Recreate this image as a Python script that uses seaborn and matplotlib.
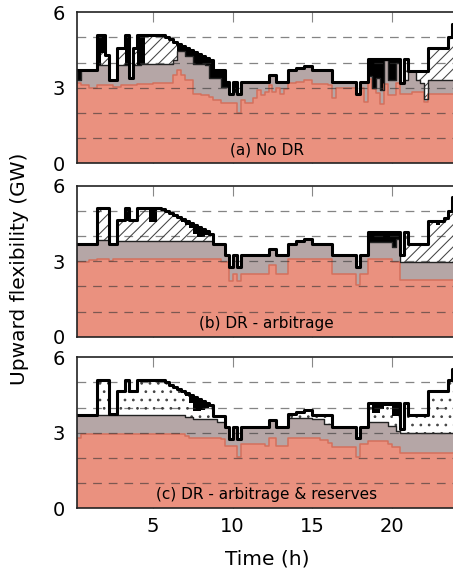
import matplotlib
matplotlib.use("Agg")
import matplotlib.pyplot as plt
import numpy as np
import seaborn as sns

# quarter-hour values (GW), interval k covers [k/4, k/4 + 0.25) h
# panel (a) No DR
total_a = [3.7, 3.7, 3.7, 3.7, 3.7, 3.7, 5.1, 5.1,
           4.3, 3.3, 3.3, 4.6, 4.6, 5.1, 3.4, 4.6,
           5.1, 5.1, 5.1, 5.1, 5.1, 5.1, 5.08, 5.0,
           4.92, 4.84, 4.76, 4.68, 4.6, 4.52, 4.44, 4.36,
           4.28, 4.2, 4.1, 3.7, 3.7, 3.7, 3.25, 2.75,
           3.25, 2.75, 3.25, 3.25, 3.25, 3.25, 3.25, 3.25,
           3.25, 3.5, 3.5, 3.25, 3.25, 3.25, 3.7, 3.7,
           3.8, 3.8, 3.88, 3.88, 3.7, 3.7, 3.7, 3.7,
           3.7, 3.25, 3.25, 3.25, 3.25, 3.25, 3.25, 2.75,
           3.25, 3.25, 4.15, 4.15, 4.15, 4.15, 4.15, 4.15,
           4.15, 4.15, 3.2, 4.15, 3.65, 3.65, 3.65, 3.65,
           3.65, 4.6, 4.6, 4.6, 4.6, 4.6, 5.0, 5.55]
hatch_a = [3.7, 3.3, 3.7, 3.7, 3.7, 3.7, 3.9, 4.4,
           4.3, 3.3, 3.3, 4.6, 4.6, 3.9, 3.4, 4.6,
           3.92, 3.95, 5.1, 5.1, 5.1, 5.1, 5.08, 5.0,
           4.92, 4.84, 4.45, 4.45, 4.25, 4.25, 3.95, 3.95,
           3.95, 3.9, 3.4, 3.4, 3.4, 3.05, 3.05, 2.75,
           2.85, 2.75, 3.25, 3.25, 3.25, 3.25, 3.25, 3.25,
           3.25, 3.5, 3.5, 3.25, 3.25, 3.25, 3.7, 3.7,
           3.8, 3.8, 3.88, 3.88, 3.7, 3.7, 3.7, 3.7,
           3.7, 3.25, 3.25, 3.25, 3.25, 3.25, 3.25, 2.75,
           3.25, 3.25, 3.45, 3.0, 3.4, 2.9, 4.1, 3.3,
           3.3, 4.0, 3.2, 4.15, 3.65, 3.65, 3.65, 3.65,
           3.65, 4.6, 4.6, 4.6, 4.6, 4.6, 5.0, 5.55]
grey_a = [3.7, 3.3, 3.7, 3.7, 3.7, 3.7, 3.9, 3.9,
          3.9, 3.3, 3.3, 3.9, 3.9, 3.9, 3.4, 3.92,
          3.92, 3.95, 3.95, 3.95, 3.95, 3.95, 3.95, 3.95,
          3.95, 4.1, 4.45, 4.45, 4.25, 4.25, 3.95, 3.95,
          3.95, 3.9, 3.4, 3.4, 3.4, 3.05, 3.05, 2.75,
          2.85, 2.75, 3.25, 3.25, 3.25, 3.25, 3.25, 3.25,
          3.25, 3.5, 3.5, 3.25, 3.25, 3.25, 3.7, 3.7,
          3.8, 3.8, 3.88, 3.88, 3.7, 3.7, 3.7, 3.7,
          3.7, 3.25, 3.25, 3.25, 3.25, 3.25, 3.25, 2.75,
          3.25, 3.25, 3.45, 3.0, 3.4, 2.9, 4.1, 3.3,
          3.3, 4.0, 3.2, 3.3, 3.65, 3.65, 3.3, 3.2,
          2.55, 3.3, 3.3, 3.3, 3.3, 3.3, 3.3, 3.3]
red_a = [3.18, 3.18, 3.1, 3.1, 3.0, 3.0, 3.1, 3.1,
         3.1, 3.1, 3.05, 3.05, 3.1, 3.1, 3.1, 3.1,
         3.15, 3.15, 3.15, 3.15, 3.2, 3.2, 3.2, 3.2,
         3.2, 3.5, 3.7, 3.5, 3.3, 3.3, 2.75, 2.75,
         2.7, 2.7, 2.65, 2.5, 2.5, 2.38, 2.38, 2.38,
         2.38, 2.0, 2.5, 2.38, 2.38, 2.58, 2.9, 2.7,
         2.85, 3.1, 2.85, 3.0, 2.75, 2.95, 3.2, 3.2,
         3.25, 3.25, 3.3, 3.3, 3.15, 3.15, 3.15, 3.15,
         3.1, 2.6, 3.0, 3.0, 3.0, 3.0, 3.0, 2.75,
         3.0, 2.45, 3.35, 2.95, 2.8, 2.35, 3.15, 2.7,
         2.7, 3.2, 2.77, 2.77, 2.77, 2.83, 2.83, 2.83,
         2.45, 2.77, 2.77, 2.77, 2.77, 2.77, 2.77, 2.77]

# panel (b) DR - arbitrage
total_b = [3.7, 3.7, 3.7, 3.7, 3.7, 3.7, 5.1, 5.1,
           5.1, 3.7, 3.7, 4.65, 4.65, 5.1, 4.65, 4.65,
           5.1, 5.1, 5.1, 5.1, 5.1, 5.1, 5.08, 5.0,
           4.92, 4.84, 4.76, 4.68, 4.6, 4.52, 4.44, 4.36,
           4.28, 4.2, 4.1, 3.7, 3.7, 3.7, 3.25, 2.75,
           3.25, 2.75, 3.25, 3.25, 3.25, 3.25, 3.25, 3.25,
           3.25, 3.5, 3.5, 3.25, 3.25, 3.25, 3.7, 3.7,
           3.8, 3.8, 3.88, 3.88, 3.7, 3.7, 3.7, 3.7,
           3.7, 3.25, 3.25, 3.25, 3.25, 3.25, 3.25, 2.75,
           3.25, 3.25, 4.15, 4.15, 4.15, 4.15, 4.15, 4.15,
           4.15, 4.15, 3.25, 4.15, 3.7, 3.7, 3.7, 3.7,
           3.7, 4.6, 4.6, 4.6, 4.6, 4.7, 5.0, 5.55]
hatch_b = [3.7, 3.7, 3.7, 3.7, 3.7, 3.7, 5.1, 5.1,
           5.1, 3.7, 3.7, 4.65, 4.65, 4.6, 4.65, 4.65,
           5.1, 5.1, 5.1, 4.55, 4.55, 5.1, 5.08, 5.0,
           4.85, 4.76, 4.66, 4.56, 4.45, 4.3, 4.1, 3.95,
           3.95, 4.05, 4.1, 3.7, 3.7, 3.7, 3.25, 2.75,
           3.25, 2.75, 3.25, 3.25, 3.25, 3.25, 3.25, 3.25,
           3.25, 3.5, 3.5, 3.25, 3.25, 3.25, 3.7, 3.7,
           3.8, 3.8, 3.88, 3.88, 3.7, 3.7, 3.7, 3.7,
           3.7, 3.25, 3.25, 3.25, 3.25, 3.25, 3.25, 2.75,
           3.25, 3.25, 3.75, 3.75, 3.75, 3.75, 3.75, 3.75,
           3.55, 3.9, 3.25, 4.15, 3.7, 3.7, 3.7, 3.7,
           3.7, 4.6, 4.6, 4.45, 4.6, 4.7, 5.0, 5.55]
grey_b = [3.7, 3.7, 3.7, 3.7, 3.7, 3.7, 3.85, 3.85,
          3.85, 3.7, 3.7, 3.82, 3.82, 3.82, 3.82, 3.82,
          3.82, 3.82, 3.82, 3.82, 3.82, 3.82, 3.82, 3.82,
          3.82, 3.82, 3.82, 3.82, 3.82, 3.82, 3.82, 3.82,
          3.82, 3.82, 3.8, 3.7, 3.7, 3.7, 3.25, 2.75,
          3.25, 2.75, 3.25, 3.25, 3.25, 3.25, 3.25, 3.25,
          3.25, 3.5, 3.5, 3.25, 3.25, 3.25, 3.7, 3.7,
          3.8, 3.8, 3.88, 3.88, 3.7, 3.7, 3.7, 3.7,
          3.7, 3.25, 3.25, 3.25, 3.25, 3.25, 3.25, 2.75,
          3.25, 3.25, 3.75, 3.75, 3.75, 3.75, 3.75, 3.75,
          3.55, 3.9, 2.97, 2.97, 2.97, 2.97, 2.97, 2.97,
          2.97, 2.97, 2.97, 2.97, 2.97, 2.97, 2.97, 2.97]
red_b = [2.97, 2.97, 2.97, 2.97, 3.03, 3.03, 3.1, 3.1,
         3.1, 3.0, 3.08, 3.08, 3.08, 3.08, 3.08, 3.08,
         3.08, 3.08, 3.08, 3.08, 3.08, 3.08, 3.08, 3.08,
         3.08, 3.08, 3.08, 3.08, 3.08, 3.08, 3.08, 3.08,
         3.08, 3.08, 3.08, 3.08, 3.08, 2.97, 2.97, 2.2,
         2.5, 2.2, 2.5, 2.5, 2.5, 2.5, 2.5, 2.5,
         2.5, 2.83, 2.83, 2.5, 2.5, 2.5, 3.07, 3.07,
         3.07, 3.07, 3.07, 3.07, 3.07, 3.07, 3.07, 3.07,
         3.07, 2.5, 2.5, 2.5, 2.5, 2.5, 2.5, 2.05,
         2.5, 2.5, 3.1, 3.1, 3.1, 3.1, 3.1, 3.1,
         2.97, 2.97, 2.24, 2.24, 2.24, 2.24, 2.24, 2.24,
         2.24, 2.24, 2.24, 2.24, 2.24, 2.24, 2.24, 2.24]

# panel (c) DR - arbitrage & reserves
total_c = [3.7, 3.7, 3.7, 3.7, 3.7, 3.7, 5.1, 5.1,
           5.1, 3.75, 3.75, 4.68, 4.68, 5.1, 4.68, 4.68,
           5.1, 5.1, 5.1, 5.1, 5.1, 5.1, 5.08, 5.0,
           4.92, 4.84, 4.76, 4.68, 4.6, 4.52, 4.44, 4.36,
           4.28, 4.2, 4.1, 3.65, 3.65, 3.65, 3.25, 2.75,
           3.25, 2.75, 3.25, 3.25, 3.25, 3.25, 3.25, 3.25,
           3.25, 3.5, 3.5, 3.25, 3.25, 3.25, 3.74, 3.74,
           3.81, 3.81, 3.9, 3.9, 3.72, 3.72, 3.72, 3.72,
           3.72, 3.25, 3.25, 3.25, 3.25, 3.25, 3.25, 2.78,
           3.25, 3.25, 4.18, 4.18, 4.18, 4.18, 4.18, 4.18,
           4.18, 4.18, 3.14, 4.18, 3.72, 3.72, 3.72, 3.72,
           3.72, 4.65, 4.65, 4.65, 4.65, 4.65, 5.1, 5.54]
dots_c = [3.7, 3.7, 3.7, 3.7, 3.7, 3.7, 5.1, 5.1,
          5.1, 3.75, 3.75, 4.68, 4.68, 5.1, 4.68, 4.68,
          5.1, 5.1, 5.1, 5.1, 5.1, 5.1, 5.08, 5.0,
          4.86, 4.78, 4.7, 4.6, 4.45, 4.2, 3.85, 3.85,
          3.9, 4.0, 4.05, 3.65, 3.65, 3.65, 3.25, 2.75,
          3.25, 2.75, 3.25, 3.25, 3.25, 3.25, 3.25, 3.25,
          3.25, 3.5, 3.5, 3.25, 3.25, 3.25, 3.74, 3.74,
          3.81, 3.81, 3.9, 3.9, 3.72, 3.72, 3.72, 3.72,
          3.72, 3.25, 3.25, 3.25, 3.25, 3.25, 3.25, 2.78,
          3.25, 3.25, 4.18, 3.8, 3.8, 3.95, 4.05, 4.05,
          3.68, 3.68, 3.14, 4.18, 3.72, 3.72, 3.72, 3.72,
          3.72, 4.65, 4.65, 4.65, 4.65, 4.65, 5.1, 5.54]
grey_c = [3.7, 3.7, 3.7, 3.7, 3.7, 3.72, 3.72, 3.72,
          3.72, 3.72, 3.72, 3.72, 3.72, 3.72, 3.72, 3.72,
          3.72, 3.72, 3.72, 3.72, 3.72, 3.72, 3.72, 3.72,
          3.72, 3.72, 3.72, 3.72, 3.64, 3.64, 3.54, 3.54,
          3.54, 3.54, 3.54, 3.54, 3.41, 3.41, 3.25, 2.75,
          3.25, 2.75, 3.25, 3.25, 3.25, 3.25, 3.25, 3.25,
          3.25, 3.5, 3.5, 3.25, 3.25, 3.25, 3.6, 3.6,
          3.6, 3.6, 3.6, 3.6, 3.55, 3.55, 3.55, 3.35,
          3.35, 3.25, 3.25, 3.25, 3.25, 3.25, 3.25, 2.78,
          3.25, 3.25, 3.41, 3.41, 3.41, 3.41, 3.41, 3.28,
          3.28, 3.08, 3.01, 3.01, 3.01, 3.01, 3.01, 3.01,
          3.01, 3.01, 3.01, 3.01, 3.01, 3.01, 3.01, 3.01]
red_c = [2.81, 2.81, 2.94, 2.94, 2.94, 2.94, 2.94, 2.94,
         2.94, 2.94, 2.94, 2.94, 2.94, 2.94, 2.94, 2.94,
         2.94, 2.94, 2.94, 2.94, 2.94, 2.94, 2.94, 2.94,
         2.94, 2.94, 2.94, 2.94, 2.88, 2.81, 2.81, 2.81,
         2.81, 2.81, 2.81, 2.81, 2.81, 2.75, 2.48, 2.48,
         2.48, 2.04, 2.54, 2.54, 2.54, 2.54, 2.54, 2.54,
         2.48, 2.81, 2.81, 2.48, 2.48, 2.48, 2.81, 2.81,
         2.81, 2.81, 2.81, 2.81, 2.81, 2.81, 2.7, 2.7,
         2.61, 2.44, 2.44, 2.44, 2.44, 2.44, 2.44, 2.04,
         2.57, 2.57, 2.68, 2.68, 2.68, 2.68, 2.68, 2.57,
         2.44, 2.44, 2.21, 2.21, 2.21, 2.21, 2.21, 2.21,
         2.21, 2.21, 2.21, 2.21, 2.21, 2.21, 2.21, 2.21]

panel_labels = ["(a) No DR", "(b) DR - arbitrage", "(c) DR - arbitrage & reserves"]
hours = np.arange(0, 24.25, 0.25)   # step edges

sns.set_style("white")
plt.rcParams["font.family"] = ["DejaVu Sans"]
plt.rcParams["text.color"] = "black"
plt.rcParams["hatch.linewidth"] = 0.75
plt.rcParams["hatch.color"] = "#444444"

SALMON = "#EA917F"
RED_EDGE = "#D4705C"
GREY = "#B5A6A6"


def ext(v):
    v = np.asarray(v, dtype=float)
    return np.append(v, v[-1])


def draw_panel(ax, red, grey, mid, total, label, pattern):
    r, g, m, t = ext(red), ext(grey), ext(mid), ext(total)
    ax.fill_between(hours, 0, r, step="post", color=SALMON, lw=0, zorder=1)
    ax.fill_between(hours, r, g, step="post", color=GREY, lw=0, zorder=1)
    ax.fill_between(hours, g, m, step="post", facecolor="white",
                    edgecolor="#444444", hatch=pattern, lw=0, zorder=1)
    ax.fill_between(hours, m, t, step="post", color="black", lw=0, zorder=1)
    sns.lineplot(x=hours, y=r, drawstyle="steps-post", color=RED_EDGE,
                 lw=1.1, ax=ax, zorder=2)
    sns.lineplot(x=hours, y=g, drawstyle="steps-post", color="#222222",
                 lw=1.0, ax=ax, zorder=2)
    for lvl in [1, 2, 3, 4, 5]:
        ax.axhline(lvl, color="#333333", alpha=0.6, lw=0.9,
                   linestyle=(0, (7, 5.5)), zorder=3)
    sns.lineplot(x=hours, y=t, drawstyle="steps-post", color="black",
                 lw=2.2, ax=ax, zorder=4)
    ax.text(0.5, 0.09, label, transform=ax.transAxes, ha="center",
            va="center", fontsize=11, color="black", zorder=5)
    ax.set_xlim(0.25, 24)
    ax.set_ylim(0, 6)
    ax.set_yticks([0, 3, 6])
    ax.set_xticks([5, 10, 15, 20])
    ax.tick_params(axis="x", direction="in", length=7, width=0.8,
                   color="#888888", labelcolor="black", top=True, bottom=True,
                   labelsize=14, pad=6)
    ax.tick_params(axis="y", length=0, labelsize=14, pad=9, labelcolor="black")
    ax.set_xlabel("")
    ax.set_ylabel("")
    for s in ax.spines.values():
        s.set_color("#222222")
        s.set_linewidth(1.2)
        s.set_zorder(6)


fig = plt.figure(figsize=(4.53, 5.73), dpi=100)
left, width, height = 0.1706, 0.8355, 0.2635
bottoms = [0.715, 0.4124, 0.1129]
series = [(red_a, grey_a, hatch_a, total_a, "///"),
          (red_b, grey_b, hatch_b, total_b, "///"),
          (red_c, grey_c, dots_c, total_c, "..")]
axes = []
for b, (rd, gr, md, tt, pat), lab in zip(bottoms, series, panel_labels):
    ax = fig.add_axes([left, b, width, height])
    draw_panel(ax, rd, gr, md, tt, lab, pat)
    axes.append(ax)

for ax in axes[:2]:
    ax.tick_params(axis="x", labelbottom=False)

fig.text(0.044, 0.53, "Upward flexibility (GW)", rotation=90,
         ha="center", va="center", fontsize=14.5, color="black")
fig.text(0.589, 0.025, "Time (h)", ha="center", va="center",
         fontsize=14.5, color="black")

fig.savefig("out.png", dpi=100)
